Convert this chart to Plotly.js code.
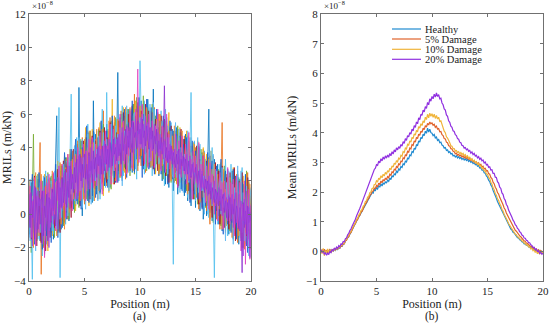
<!DOCTYPE html>
<html>
<head>
<meta charset="utf-8">
<script src="https://cdn.plot.ly/plotly-3.0.1.min.js"></script>
<style>html,body{margin:0;padding:0;background:#fff;}#chart{width:550px;height:323px;}</style>
</head>
<body>
<div id="chart"></div>
<script>
// Position grid: x0 = 0 m, dx = 0.1 m (201 samples, 0..20 m). Values in units of 1e-8 m/kN.
const X0 = 0, DX = 0.1;

// ---- Panel (a): individual MRIL realisations ----
const trialBlue = [
0.8,-1.2,1.9,0.2,-0.9,1.4,-1.8,0.6,2.1,-0.4,
-1.6,1.1,-0.3,2.0,-2.4,0.7,1.5,-1.0,0.3,2.2,
-0.8,1.7,-1.5,0.9,2.4,5.9,-1.1,0.2,2.6,-0.9,
2.9,-0.6,1.8,3.4,0.1,2.2,-0.4,3.6,1.0,2.7,
0.3,3.9,1.5,4.2,0.6,7.6,2.0,4.4,-0.1,3.2,
1.0,4.6,2.3,0.8,4.9,1.9,3.7,0.7,6.8,2.5,
4.8,1.2,3.6,5.1,1.7,3.0,5.3,1.4,4.1,2.2,
5.4,2.0,3.8,1.6,5.6,3.1,2.3,5.2,1.9,4.3,
8.5,2.4,4.5,6.0,2.2,5.3,3.5,6.1,2.6,4.9,
6.3,3.0,5.5,2.5,6.6,4.1,3.2,6.5,2.9,5.2,
3.3,6.8,4.4,2.7,6.2,5.0,3.1,6.9,4.2,2.8,
5.9,3.6,7.5,2.6,5.0,3.8,6.1,2.3,4.6,5.4,
2.0,5.5,3.3,1.8,5.8,3.9,1.6,4.7,2.9,5.1,
1.4,4.4,2.6,5.2,1.2,3.7,4.9,1.5,3.0,4.5,
1.1,4.8,2.2,0.8,4.0,2.9,0.5,3.8,1.7,4.3,
0.4,3.5,1.6,4.1,0.2,2.4,3.7,-0.3,1.9,3.2,
-0.1,3.0,6.3,0.5,2.8,-0.4,1.9,3.3,0.0,2.1,
3.0,-0.6,1.4,2.8,-1.0,0.9,2.5,-0.8,1.6,2.7,
-1.2,1.8,0.3,2.6,-1.5,0.8,2.3,-0.9,1.2,-1.8,
2.1,0.0,-1.6,1.7,-0.5,2.4,-1.9,0.6,1.9,-1.2,
0.4];
const trialOrange = [
-0.9,1.6,0.2,-1.7,2.0,0.5,-1.3,1.2,-0.6,1.8,
4.3,-3.6,0.9,-2.0,1.5,-0.7,2.3,-1.2,0.6,1.9,
-1.1,2.1,0.4,-0.9,2.6,1.0,-0.5,2.8,0.1,3.0,
0.6,2.5,-0.2,3.3,1.4,-0.3,3.1,1.9,0.4,3.8,
1.2,4.1,0.5,2.8,4.4,1.0,3.4,0.8,4.6,2.3,
0.6,4.0,2.6,5.0,1.3,3.9,0.9,4.7,2.8,1.5,
4.5,2.5,0.9,5.2,3.2,1.8,4.7,6.2,2.4,3.6,
1.7,5.0,3.3,5.8,2.1,4.2,1.8,5.5,3.7,2.4,
5.1,2.7,4.6,6.2,2.9,4.3,5.9,2.1,4.8,6.0,
3.1,5.6,2.8,6.4,4.0,7.2,3.5,5.3,2.6,6.0,
4.5,2.9,6.5,3.8,5.7,2.5,6.1,4.4,3.0,5.9,
2.8,5.3,4.0,6.4,2.5,4.8,3.3,6.0,2.7,4.1,
5.6,2.4,4.3,3.1,5.4,1.9,4.0,5.2,2.3,3.6,
4.8,1.9,3.9,2.7,5.1,1.7,3.4,4.6,2.0,3.2,
4.7,1.5,3.5,2.4,4.4,0.9,3.2,4.1,1.4,2.7,
4.0,1.0,2.9,0.3,3.6,2.1,0.7,3.9,1.3,2.6,
0.2,3.4,1.5,-0.6,2.9,1.1,3.5,0.4,2.2,-0.3,
2.6,0.8,-0.9,2.3,5.5,0.1,1.8,-1.1,2.4,0.5,
-0.7,2.1,0.9,-1.4,1.6,2.7,-0.2,1.1,-1.7,2.0,
0.4,-1.3,2.2,0.8,-2.1,1.3,-0.6,2.5,-1.0,0.7,
-0.5];
const trialYellow = [
1.5,-0.4,0.9,2.2,-1.1,0.3,1.7,-0.8,0.0,1.2,
-0.2,1.9,-1.5,0.6,2.4,-0.9,1.1,-2.2,0.8,1.6,
0.1,-1.3,2.0,0.7,-0.6,1.8,3.2,-0.2,1.4,2.5,
-0.4,2.1,3.5,0.9,2.7,-0.1,1.6,3.9,0.5,2.4,
3.6,1.1,0.2,3.2,1.9,4.3,0.7,2.6,4.1,1.4,
3.3,5.2,1.8,2.9,0.5,4.4,2.2,5.1,1.0,3.7,
2.1,4.3,1.4,3.8,5.5,2.0,3.1,1.1,4.6,2.9,
4.8,2.6,1.3,5.3,3.5,6.9,2.7,4.4,2.0,5.6,
3.0,4.9,2.2,5.7,3.8,6.4,2.5,4.1,5.4,3.2,
5.8,2.8,4.6,6.1,3.7,5.0,6.8,3.3,4.2,5.5,
3.6,6.3,5.0,3.2,6.7,4.1,5.6,2.9,5.3,4.0,
6.2,3.1,5.1,4.3,2.4,5.8,3.6,4.7,6.0,2.9,
4.5,3.0,5.7,2.6,4.2,3.5,6.1,2.2,4.4,3.0,
2.6,5.0,3.4,1.8,4.3,2.9,5.2,2.3,3.7,1.6,
3.9,2.5,5.0,1.9,3.4,4.6,1.6,2.8,4.3,1.8,
3.1,1.2,4.4,2.0,3.3,0.8,2.7,4.0,1.1,2.3,
3.6,0.9,2.4,1.5,3.8,0.3,2.0,3.0,0.6,1.7,
-0.2,2.2,1.0,3.1,-0.5,1.5,0.2,2.6,-0.7,1.2,
2.3,0.0,1.6,-0.9,2.8,0.5,-1.2,1.9,0.7,-0.6,
1.6,-1.4,0.9,2.3,-0.3,-1.8,1.4,0.2,2.0,-0.8,
0.9];
const trialGreen = [
-1.0,0.7,-2.3,1.3,4.8,-0.5,1.0,-1.6,2.4,0.0,
1.2,-0.8,2.0,-1.9,0.4,1.7,-1.2,2.5,-0.4,0.9,
2.3,-0.6,1.1,-1.4,2.7,0.2,1.5,-1.0,0.8,2.9,
1.0,-0.7,2.6,0.4,3.4,1.5,-0.3,2.0,3.7,1.1,
2.5,0.1,3.8,1.6,2.9,0.4,4.5,2.7,1.2,3.9,
2.0,4.3,0.9,3.4,1.7,5.0,2.6,1.2,4.1,3.0,
1.5,3.9,2.7,5.0,1.2,4.2,2.3,5.4,3.0,1.8,
3.6,5.1,2.2,4.0,1.5,4.7,3.3,2.1,5.8,3.4,
2.0,5.4,3.6,2.5,6.0,4.3,2.8,5.0,3.3,6.3,
4.0,2.3,5.9,3.6,6.6,2.4,4.9,7.0,3.8,4.5,
6.0,3.4,4.8,7.1,3.9,5.5,2.6,6.3,3.8,5.2,
3.5,6.6,2.9,4.6,5.9,3.0,4.9,2.5,5.5,3.8,
4.9,2.1,5.4,3.7,2.3,5.0,3.4,4.4,1.9,4.6,
3.4,4.6,2.0,3.9,5.3,2.4,1.9,4.1,3.3,2.1,
4.4,3.0,1.4,3.9,2.6,1.3,4.3,2.1,3.5,0.9,
2.6,4.0,0.6,2.8,1.6,3.9,0.9,1.9,3.4,0.4,
2.5,1.2,3.4,0.2,2.1,2.9,-0.5,1.6,2.8,0.3,
1.5,2.7,0.0,-0.7,2.1,1.0,2.9,-0.4,0.8,2.3,
0.3,-1.0,2.0,1.1,-0.4,2.4,0.1,-1.4,1.5,2.2,
-0.9,0.8,-2.0,1.8,0.5,-1.1,2.6,-0.2,-1.5,1.1,
-0.3];
const trialCyan = [
0.5,2.1,-0.7,-3.9,1.4,-1.3,0.9,2.3,-1.5,0.6,
1.8,-0.5,-2.5,1.3,0.2,2.6,-1.8,0.1,1.7,-1.0,
1.0,2.4,-1.2,0.6,3.0,-0.4,1.9,6.4,-3.8,1.7,
0.2,2.8,1.2,-0.6,3.2,2.0,0.3,3.5,7.2,1.4,
3.1,0.8,2.4,4.6,1.0,3.7,0.5,2.9,4.5,1.9,
4.1,1.4,3.2,5.4,1.1,2.8,4.5,2.0,0.8,3.9,
2.6,5.0,1.9,3.5,0.9,4.4,6.3,2.8,4.0,1.6,
7.3,2.9,4.6,2.3,5.2,3.9,1.9,4.5,3.0,5.7,
3.5,2.0,5.5,3.9,6.5,2.3,4.7,3.4,6.1,2.7,
5.0,3.9,6.3,2.9,5.4,3.5,4.3,2.1,6.4,3.7,
9.2,4.7,3.0,5.8,2.4,6.1,4.5,3.5,6.4,3.2,
5.1,2.3,4.2,6.3,3.4,5.1,2.7,4.3,3.1,6.2,
3.2,4.8,1.7,4.1,3.0,5.3,2.6,3.8,5.5,2.0,
-3.0,3.9,2.4,4.7,2.1,3.6,1.3,4.9,2.6,4.0,
2.0,3.3,4.5,1.0,2.9,3.8,7.3,1.9,3.0,4.4,
1.6,3.6,2.4,0.8,4.2,1.4,2.9,0.6,3.8,2.2,
1.1,3.1,-0.2,2.6,1.4,4.0,0.8,-3.8,1.3,2.5,
0.4,1.9,3.0,0.6,-0.3,2.5,1.1,3.3,0.2,-1.3,
1.7,0.8,3.0,-0.5,1.3,2.2,-1.0,0.9,2.6,0.0,
-1.4,1.5,2.8,-0.6,1.0,-1.7,0.4,2.2,-0.9,1.6,
0.2];
const trialMagenta = [
0.1,1.7,-1.4,0.8,-0.3,2.2,-1.9,1.1,0.4,-1.1,
0.7,2.0,-1.1,1.4,-2.6,0.5,1.9,-0.4,2.4,-0.8,
1.6,-0.1,2.5,0.3,-1.0,2.0,0.8,2.9,-0.3,1.3,
3.0,0.5,1.9,-0.2,2.4,3.6,0.7,1.5,3.2,0.2,
1.8,3.5,0.9,2.5,4.0,1.3,3.1,0.9,2.2,4.2,
2.4,0.8,3.8,2.0,4.5,1.5,3.3,4.6,1.6,2.9,
4.2,1.7,3.3,2.4,4.9,2.6,1.2,4.1,3.1,5.0,
2.5,4.1,3.0,5.4,1.8,3.6,5.1,2.6,4.2,1.9,
4.4,3.2,6.0,2.3,4.1,5.6,3.0,4.7,2.4,5.2,
3.5,6.2,4.4,2.7,5.6,3.9,6.3,4.6,8.7,3.1,
5.5,3.9,6.6,4.2,3.0,5.8,4.6,2.8,6.0,4.5,
3.2,5.6,3.9,2.8,5.3,4.4,6.3,3.4,4.0,2.6,
5.3,3.6,4.5,2.5,6.0,3.1,4.8,2.7,4.1,3.5,
3.8,2.2,4.8,3.2,1.6,4.4,3.6,2.2,4.7,2.8,
2.4,4.2,1.8,3.5,4.9,2.1,3.3,0.9,3.8,2.5,
3.5,1.9,2.7,4.3,0.9,3.0,1.6,3.5,2.4,0.7,
2.9,1.9,0.3,3.1,1.0,2.4,1.8,0.0,2.7,1.2,
-0.4,1.7,2.5,0.6,1.9,-0.9,2.0,1.2,-0.3,2.8,
0.8,-0.6,1.9,0.0,2.1,-1.3,1.0,2.3,-0.8,0.4,
1.9,-2.2,0.6,-0.4,2.0,-3.0,0.9,-1.6,1.5,-2.7,
0.6];
const trialDarkRed = [
1.1,0.4,-1.5,-0.7,1.8,2.3,-0.2,-1.9,0.5,1.4,
-0.9,-1.7,0.6,1.9,0.2,-2.2,1.0,2.1,-0.3,-1.4,
1.8,0.5,2.4,-0.8,-0.2,1.3,2.7,0.0,-1.1,2.2,
1.6,3.2,-0.5,0.8,2.9,3.4,0.3,1.2,-0.2,2.6,
3.9,1.4,0.7,3.0,4.2,2.2,0.5,3.5,1.8,4.4,
2.9,1.0,4.6,3.4,1.5,0.9,3.8,4.7,2.4,1.7,
4.4,3.3,1.5,2.6,5.0,4.1,1.9,3.4,5.2,2.3,
1.9,4.6,3.7,5.5,2.4,3.0,5.3,1.8,4.1,4.9,
2.6,5.6,4.0,2.3,3.4,6.1,4.8,2.7,5.4,3.6,
6.0,3.2,4.9,6.5,2.8,4.3,5.9,3.5,6.7,4.9,
3.5,6.2,5.4,2.9,4.6,6.6,3.7,5.1,6.2,3.4,
4.9,6.1,2.7,3.9,5.7,4.5,2.6,5.2,3.3,5.9,
3.1,4.6,5.7,2.3,3.8,4.9,1.9,4.2,5.3,2.8,
4.1,2.2,5.0,3.5,1.7,4.4,3.0,5.1,2.4,3.3,
4.5,1.8,2.9,4.7,1.4,3.3,4.1,2.0,0.9,3.6,
2.4,4.1,1.1,0.6,3.3,2.8,0.4,3.5,2.1,1.0,
3.2,0.5,2.4,3.5,0.8,-0.2,2.3,1.4,3.1,0.2,
1.1,2.6,-0.6,0.7,2.9,1.6,-0.8,0.4,2.2,1.4,
-0.9,2.5,1.2,-0.5,0.7,2.8,-1.6,1.3,0.1,2.0,
-1.0,1.2,2.5,-2.0,0.3,1.7,-1.3,2.2,0.6,-2.1,
0.3];
const trialRoyal = [
-1.4,0.2,1.6,2.4,-0.6,-1.8,0.7,1.3,-0.4,2.5,
1.4,-0.8,-2.1,0.3,2.2,1.0,-1.3,-0.1,1.8,0.6,
-1.7,0.9,1.6,-0.3,3.0,0.4,-1.4,1.2,2.3,0.0,
-0.8,1.5,3.7,2.4,-0.3,0.9,3.1,2.0,3.9,0.6,
1.0,3.3,4.5,0.8,2.4,3.8,1.6,0.3,4.0,2.8,
1.3,3.5,5.3,2.0,0.7,4.0,2.9,1.1,5.0,3.2,
1.0,2.8,4.6,3.6,1.3,5.6,2.9,4.4,1.7,3.8,
5.0,1.6,3.1,4.8,2.5,5.9,3.9,2.2,4.6,3.5,
1.9,4.2,5.8,3.1,2.0,5.1,6.3,3.5,2.2,4.6,
5.5,2.6,3.9,6.8,4.5,2.5,5.7,3.3,4.6,7.0,
3.9,5.1,2.2,6.0,4.3,3.6,6.9,5.2,2.7,4.6,
6.4,3.8,5.0,2.4,4.6,6.3,3.5,4.2,5.6,2.4,
4.3,5.9,2.5,3.4,5.1,1.8,3.9,5.6,3.3,2.1,
5.0,3.1,2.5,4.8,1.6,3.4,4.7,2.7,1.4,4.2,
3.0,1.3,4.6,2.5,3.7,0.7,2.6,4.4,3.0,1.2,
3.8,2.6,0.9,4.0,1.7,2.9,0.3,3.1,2.5,0.5,
1.6,3.7,2.2,0.1,2.4,3.2,0.9,1.8,-0.6,2.9,
2.0,-0.1,1.5,3.3,0.3,-1.2,1.9,2.6,0.5,-0.6,
2.0,1.4,-1.1,0.5,2.7,-0.2,1.5,-1.5,2.4,0.9,
0.1,-1.6,1.9,0.9,-0.6,2.3,-0.9,-2.3,1.2,0.0,
-1.2];
const trialRed = [
2.0,0.6,-0.9,1.1,-2.0,0.3,2.5,-0.5,1.6,-1.3,
0.3,2.4,1.1,-1.2,-0.2,1.7,0.4,-1.9,2.0,1.2,
-0.4,2.6,1.0,0.0,1.9,-1.3,2.2,0.7,3.1,-0.6,
2.3,1.0,-0.9,2.8,1.7,3.6,0.1,2.2,1.2,3.3,
0.9,2.3,3.6,1.3,4.4,2.1,0.8,3.9,2.9,0.9,
4.5,2.4,1.4,4.0,3.0,5.0,1.9,2.8,4.3,0.8,
3.5,5.1,2.0,1.4,4.3,3.3,5.1,1.8,2.7,4.6,
3.2,2.1,5.6,4.3,1.8,3.5,4.6,5.9,2.8,3.2,
5.7,4.4,2.2,3.3,5.5,2.6,4.3,6.4,3.6,2.5,
4.1,6.4,3.7,5.1,2.6,5.8,3.9,6.1,3.0,5.6,
6.5,3.5,4.2,5.6,3.2,4.8,6.4,2.9,4.7,6.1,
4.0,2.9,6.1,4.9,3.0,5.7,4.0,2.4,6.0,4.5,
2.9,5.2,4.0,5.6,2.7,3.4,5.0,3.6,2.0,4.7,
3.0,5.3,2.7,1.9,3.8,4.6,2.5,3.4,5.0,1.8,
2.7,4.0,3.4,1.2,4.3,2.4,3.7,1.5,2.6,4.2,
1.3,2.8,3.9,1.9,0.7,3.2,2.4,1.0,3.7,1.5,
0.8,2.0,3.3,-0.3,1.9,2.7,0.5,3.0,1.1,1.8,
2.4,0.3,1.4,2.0,-0.9,2.7,0.7,1.5,-0.5,2.0,
1.2,2.2,-0.3,0.2,1.8,-1.2,0.9,2.4,0.2,-1.3,
1.3,2.0,-0.8,0.4,1.5,-1.1,2.4,-0.4,0.8,1.8,
-0.9];
const trialSky = [
-0.3,-1.6,1.0,0.4,2.0,-0.8,-2.2,1.5,0.9,-0.6,
-1.1,1.5,0.4,2.3,-1.6,-0.5,0.9,2.4,-1.0,0.2,
2.0,-1.0,0.3,2.6,1.2,-0.9,0.4,2.9,1.5,-0.2,
1.1,3.0,2.0,0.2,2.5,-0.1,3.4,1.4,2.1,0.8,
2.9,4.1,0.6,1.9,3.0,4.6,1.4,2.3,0.4,3.4,
2.2,0.3,3.6,4.8,2.4,3.1,0.6,4.2,2.1,4.9,
2.0,3.9,0.8,4.7,2.5,1.5,3.6,4.9,2.2,3.0,
4.5,3.3,1.4,2.7,5.4,4.1,2.6,3.9,5.3,2.0,
4.8,3.0,5.2,4.4,1.7,3.8,5.0,4.2,6.5,3.0,
2.5,4.7,5.2,3.0,5.9,6.1,2.7,4.8,5.0,3.3,
5.8,4.0,6.0,3.9,6.8,2.7,5.0,5.4,3.1,6.6,
3.2,4.4,6.7,3.6,2.8,5.2,5.6,3.0,4.4,5.2,
5.6,3.0,3.5,6.3,4.2,2.4,4.6,4.0,5.0,2.4,
2.2,4.2,5.5,2.2,3.4,5.1,2.1,4.0,3.6,1.3,
3.6,2.1,2.4,5.0,1.9,3.1,4.6,1.1,3.5,2.7,
0.8,3.1,4.6,1.3,2.5,3.6,1.4,2.3,0.0,3.3,
2.3,0.0,1.0,3.8,1.6,0.5,3.6,1.9,0.9,2.6,
-0.6,1.5,2.2,0.0,2.8,0.4,1.3,-1.6,1.9,0.9,
2.6,-0.4,0.6,1.8,-1.8,1.6,0.8,-0.3,2.9,-0.7,
0.8,2.6,-1.1,1.3,-1.6,0.6,1.7,-0.7,-2.5,0.9,
1.5];
const trialPurple = [
0.4,-0.8,1.3,-0.2,0.9,-1.5,1.6,0.1,-0.9,1.0,
-0.6,0.8,1.4,-1.3,0.5,-0.2,1.2,-1.6,1.0,0.3,
-0.5,1.5,0.2,1.9,-0.7,1.1,2.2,0.1,1.6,0.4,
2.2,0.7,1.3,2.7,0.4,2.0,1.0,2.9,1.5,2.4,
1.3,2.8,1.9,3.3,1.1,2.7,3.6,2.0,3.0,2.2,
3.6,2.1,3.0,1.8,3.7,2.6,3.2,1.9,3.8,2.7,
3.4,2.2,4.0,2.9,3.5,2.4,4.1,3.1,2.6,4.2,
3.0,3.9,2.8,4.3,3.4,2.9,4.5,3.6,4.0,3.2,
4.6,3.5,4.2,3.0,4.9,3.8,4.4,5.1,3.6,4.7,
4.0,5.2,4.3,3.7,5.5,4.6,4.9,3.9,5.6,4.8,
5.1,4.2,5.7,4.6,5.0,4.1,5.3,4.7,3.9,5.2,
4.5,5.0,3.9,4.7,4.2,5.1,3.7,4.4,3.9,4.6,
3.6,4.3,7.7,3.4,4.0,3.1,3.8,3.3,4.1,3.0,
3.7,3.2,2.8,3.6,3.0,3.9,2.7,3.3,2.9,3.5,
2.6,3.3,3.0,2.4,3.2,2.7,2.2,3.0,2.5,2.0,
2.8,2.2,1.8,2.6,2.0,1.6,2.4,1.9,1.3,2.1,
1.5,2.0,1.2,1.8,0.9,1.6,1.1,0.7,1.5,0.9,
1.3,0.5,1.1,0.2,0.9,1.2,0.1,0.8,-0.2,0.7,
0.3,1.0,-0.4,0.6,0.0,0.9,-0.6,0.5,0.2,-0.9,
0.4,-0.3,-3.5,0.7,-0.8,0.2,-1.2,0.5,-0.5,0.1,
-0.4];
const trialViolet = [
-0.6,1.2,0.3,-1.9,0.8,1.7,-0.4,-1.1,1.4,0.5,
0.9,-0.4,-1.8,0.8,1.6,-1.0,0.5,1.3,-2.0,0.9,
0.4,1.3,-0.6,2.1,0.5,0.0,-0.9,1.9,0.6,2.1,
0.3,1.8,2.5,0.6,1.1,2.9,1.8,0.4,2.7,1.9,
2.2,1.5,3.1,2.4,0.9,3.5,2.5,3.4,1.6,2.7,
3.0,3.8,2.3,1.5,3.5,2.2,4.0,2.4,3.3,2.0,
2.7,3.6,3.0,4.1,2.1,3.9,3.2,2.4,4.4,3.0,
4.1,2.6,4.5,3.3,2.8,4.2,3.5,4.6,3.0,4.5,
3.4,4.8,3.7,4.3,5.2,3.2,4.2,3.6,5.3,4.1,
5.0,3.9,4.6,5.6,4.2,3.6,5.7,4.5,4.0,5.4,
4.2,5.8,4.0,5.4,3.6,5.9,4.4,5.5,4.9,4.0,
5.2,3.8,4.6,5.4,3.6,4.4,4.9,3.5,4.8,3.8,
4.3,3.3,4.4,4.0,3.2,4.6,3.1,4.2,3.2,3.9,
3.0,3.9,3.4,2.6,3.8,3.4,2.4,3.7,3.2,2.6,
3.4,2.4,3.6,2.9,2.0,3.5,2.3,2.6,3.1,1.8,
2.5,3.0,1.6,2.4,2.7,1.4,2.6,1.5,2.3,1.6,
2.0,1.1,2.3,1.4,1.9,0.6,1.3,2.0,0.5,1.4,
0.6,1.6,0.8,1.5,-0.1,0.9,1.3,0.2,1.0,-0.4,
1.1,-0.2,0.7,1.2,-0.8,0.4,1.3,-0.5,0.6,1.2,
-1.0,0.8,0.3,-2.5,0.9,-0.6,1.4,-1.9,0.4,-2.6,
0.5];

// ---- Panel (b): mean MRILs ----
const meanHealthy = [
0.02,-0.05,0.06,-0.03,0.04,-0.06,0.03,0.00,0.05,-0.02,
0.04,0.01,0.07,0.03,0.10,0.06,0.13,0.11,0.18,0.17,
0.24,0.26,0.34,0.38,0.45,0.50,0.58,0.64,0.72,0.80,
0.87,0.95,1.01,1.09,1.15,1.22,1.30,1.36,1.45,1.52,
1.58,1.66,1.70,1.79,1.84,1.90,1.98,1.96,2.08,2.05,
2.14,2.10,2.22,2.16,2.28,2.20,2.31,2.26,2.35,2.30,
2.40,2.36,2.47,2.42,2.55,2.50,2.61,2.58,2.70,2.66,
2.78,2.74,2.86,2.83,2.95,2.92,3.04,3.01,3.14,3.12,
3.25,3.22,3.36,3.33,3.48,3.44,3.60,3.56,3.72,3.68,
3.84,3.80,3.95,3.90,4.05,3.98,4.15,4.02,4.12,4.00,
3.98,3.90,3.94,3.82,3.85,3.74,3.77,3.66,3.68,3.58,
3.56,3.48,3.50,3.40,3.42,3.33,3.36,3.28,3.30,3.22,
3.24,3.18,3.22,3.15,3.19,3.13,3.17,3.10,3.14,3.08,
3.12,3.06,3.10,3.03,3.07,3.00,3.03,2.96,2.99,2.92,
2.94,2.87,2.89,2.81,2.82,2.74,2.74,2.65,2.63,2.54,
2.50,2.40,2.35,2.24,2.18,2.06,1.98,1.86,1.79,1.68,
1.60,1.50,1.44,1.34,1.28,1.18,1.12,1.02,0.97,0.88,
0.82,0.75,0.72,0.64,0.62,0.55,0.53,0.46,0.45,0.39,
0.38,0.32,0.31,0.25,0.26,0.20,0.21,0.15,0.16,0.10,
0.12,0.06,0.10,0.02,0.07,-0.02,0.05,-0.04,0.03,-0.05,
0.00];
const meanDamage5 = [
-0.03,0.05,0.01,0.07,-0.02,0.04,-0.05,0.02,0.06,0.00,
0.05,0.02,0.08,0.05,0.11,0.08,0.15,0.12,0.20,0.18,
0.27,0.25,0.36,0.37,0.47,0.49,0.60,0.63,0.74,0.79,
0.89,0.93,1.04,1.07,1.18,1.21,1.32,1.35,1.46,1.50,
1.61,1.64,1.75,1.78,1.89,1.92,2.02,2.03,2.13,2.12,
2.22,2.18,2.30,2.25,2.37,2.31,2.42,2.37,2.47,2.42,
2.52,2.48,2.60,2.56,2.68,2.65,2.77,2.74,2.86,2.83,
2.95,2.92,3.04,3.02,3.15,3.12,3.25,3.23,3.37,3.34,
3.48,3.45,3.60,3.57,3.72,3.68,3.84,3.80,3.95,3.91,
4.05,4.01,4.15,4.10,4.24,4.19,4.31,4.26,4.36,4.30,
4.33,4.25,4.28,4.18,4.22,4.12,4.14,4.03,4.04,3.93,
3.90,3.80,3.79,3.68,3.66,3.56,3.55,3.46,3.45,3.37,
3.36,3.29,3.31,3.24,3.27,3.21,3.25,3.18,3.22,3.15,
3.20,3.13,3.17,3.10,3.14,3.06,3.10,3.02,3.06,2.98,
3.02,2.94,2.98,2.89,2.93,2.84,2.87,2.78,2.80,2.71,
2.72,2.62,2.60,2.49,2.45,2.33,2.28,2.16,2.10,1.98,
1.93,1.82,1.75,1.64,1.57,1.46,1.40,1.29,1.22,1.12,
1.04,0.96,0.91,0.83,0.79,0.71,0.68,0.61,0.58,0.52,
0.49,0.43,0.41,0.35,0.34,0.28,0.27,0.22,0.21,0.16,
0.16,0.10,0.12,0.05,0.08,0.01,0.05,-0.02,0.03,-0.03,
0.01];
const meanDamage10 = [
0.05,-0.08,0.10,-0.15,0.03,-0.06,0.08,-0.02,0.04,-0.05,
0.06,0.00,0.09,0.04,0.12,0.07,0.16,0.13,0.21,0.20,
0.28,0.28,0.38,0.40,0.50,0.53,0.63,0.67,0.77,0.83,
0.92,0.97,1.07,1.12,1.22,1.27,1.37,1.41,1.52,1.56,
1.68,1.71,1.83,1.86,1.98,2.00,2.12,2.13,2.25,2.26,
2.38,2.35,2.47,2.42,2.55,2.48,2.60,2.54,2.66,2.60,
2.72,2.67,2.80,2.75,2.88,2.84,2.97,2.93,3.06,3.02,
3.14,3.10,3.24,3.21,3.36,3.33,3.48,3.45,3.61,3.58,
3.72,3.68,3.84,3.80,3.96,3.92,4.08,4.03,4.20,4.15,
4.30,4.24,4.40,4.34,4.52,4.44,4.62,4.50,4.66,4.55,
4.64,4.52,4.62,4.48,4.58,4.46,4.52,4.38,4.40,4.25,
4.20,4.05,4.00,3.86,3.82,3.70,3.66,3.56,3.54,3.46,
3.46,3.38,3.40,3.33,3.36,3.29,3.33,3.26,3.30,3.22,
3.26,3.18,3.22,3.14,3.17,3.09,3.12,3.04,3.07,2.99,
3.02,2.93,2.96,2.87,2.89,2.79,2.81,2.71,2.71,2.61,
2.60,2.49,2.45,2.33,2.27,2.14,2.08,1.95,1.89,1.77,
1.72,1.60,1.54,1.42,1.36,1.25,1.19,1.09,1.03,0.94,
0.88,0.80,0.76,0.68,0.65,0.58,0.56,0.49,0.48,0.42,
0.41,0.35,0.34,0.28,0.28,0.21,0.22,0.15,0.16,0.08,
0.10,0.02,0.06,-0.04,0.02,-0.08,-0.01,-0.10,0.01,-0.06,
-0.02];
const meanDamage20 = [
0.05,-0.04,0.02,-0.10,-0.05,-0.13,-0.06,-0.11,0.00,-0.04,
0.06,0.02,0.10,0.06,0.14,0.10,0.19,0.15,0.25,0.23,
0.33,0.32,0.43,0.45,0.56,0.60,0.70,0.75,0.85,0.92,
1.02,1.08,1.19,1.26,1.36,1.45,1.55,1.65,1.75,1.85,
1.97,2.05,2.18,2.26,2.39,2.46,2.58,2.65,2.76,2.80,
2.92,2.90,3.04,2.98,3.12,3.05,3.18,3.10,3.22,3.14,
3.25,3.17,3.30,3.22,3.36,3.28,3.42,3.35,3.49,3.42,
3.53,3.47,3.60,3.55,3.70,3.64,3.80,3.74,3.90,3.86,
4.00,3.95,4.12,4.06,4.24,4.18,4.36,4.30,4.50,4.44,
4.62,4.58,4.76,4.70,4.88,4.82,5.02,4.94,5.14,5.06,
5.22,5.14,5.30,5.20,5.34,5.22,5.28,5.14,5.16,5.00,
4.94,4.80,4.76,4.60,4.55,4.40,4.35,4.22,4.18,4.06,
4.04,3.93,3.90,3.80,3.78,3.68,3.66,3.57,3.56,3.48,
3.50,3.42,3.45,3.37,3.40,3.31,3.35,3.26,3.30,3.21,
3.24,3.15,3.19,3.10,3.14,3.05,3.08,2.98,3.01,2.91,
2.93,2.83,2.85,2.74,2.75,2.63,2.63,2.50,2.49,2.35,
2.30,2.16,2.12,1.97,1.92,1.78,1.72,1.58,1.52,1.39,
1.32,1.21,1.15,1.05,1.00,0.90,0.86,0.77,0.74,0.66,
0.63,0.55,0.53,0.45,0.44,0.37,0.36,0.29,0.29,0.22,
0.20,0.13,0.14,0.06,0.08,0.00,0.02,-0.07,-0.03,-0.10,
-0.06];

const trialSeries = [trialBlue, trialOrange, trialYellow, trialGreen, trialCyan, trialDarkRed,
  trialRoyal, trialRed, trialSky, trialMagenta, trialPurple, trialViolet];
const trialColors = ['#0072BD', '#E8701A', '#EDB120', '#77AC30', '#4DBEEE', '#A2142F',
  '#1A5FD0', '#F08A30', '#60B8F0', '#E040C0', '#8B2FD0', '#A040E0'];

const meanNames = ['Healthy', '5% Damage', '10% Damage', '20% Damage'];
const meanSeries = [meanHealthy, meanDamage5, meanDamage10, meanDamage20];
const meanColors = ['#1F8AD0', '#E0622A', '#F0B43A', '#9030E0'];

const xTicks = [0, 5, 10, 15, 20];

const FONT = "'Liberation Serif', serif";
const traces = [];
trialSeries.forEach((s, i) => {
  traces.push({type: 'scatter', mode: 'lines', x0: X0, dx: DX, y: s,
    xaxis: 'x', yaxis: 'y', line: {color: trialColors[i], width: 0.8}, hoverinfo: 'skip', showlegend: false});
});
meanSeries.forEach((s, i) => {
  traces.push({type: 'scatter', mode: 'lines', x0: X0, dx: DX, y: s, name: meanNames[i],
    xaxis: 'x2', yaxis: 'y2', line: {color: meanColors[i], width: 1.2}, hoverinfo: 'skip', showlegend: false});
});

const axBase = {
  showline: true, linecolor: '#707070', linewidth: 1, mirror: 'ticks',
  ticks: 'inside', ticklen: 3, tickcolor: '#707070', showgrid: false, zeroline: false,
  tickfont: {family: FONT, size: 11, color: '#222'}
};
const yTop = 1 - 14/323, yBot = 1 - 281/323;
const layout = {
  width: 550, height: 323,
  margin: {l: 0, r: 0, t: 0, b: 0},
  paper_bgcolor: '#fff', plot_bgcolor: '#fff',
  font: {family: FONT, color: '#222'},
  showlegend: false,
  xaxis: Object.assign({}, axBase, {domain: [29/550, 251/550], range: [0, 20], tickvals: xTicks, anchor: 'y',
    title: {text: 'Position (m)', font: {family: FONT, size: 12}, standoff: 0}}),
  yaxis: Object.assign({}, axBase, {domain: [yBot, yTop], range: [-4, 12], dtick: 2, anchor: 'x',
    title: {text: 'MRILs (m/kN)', font: {family: FONT, size: 12}, standoff: 4}}),
  xaxis2: Object.assign({}, axBase, {domain: [321/550, 543/550], range: [0, 20], tickvals: xTicks, anchor: 'y2',
    title: {text: 'Position (m)', font: {family: FONT, size: 12}, standoff: 0}}),
  yaxis2: Object.assign({}, axBase, {domain: [yBot, yTop], range: [-1, 8], dtick: 1, anchor: 'x2',
    title: {text: 'Mean MRILs (m/kN)', font: {family: FONT, size: 12}, standoff: 6}}),
  annotations: [
    {xref: 'paper', yref: 'paper', x: 30/550, y: 1 - 13/323, xanchor: 'left', yanchor: 'bottom', showarrow: false,
     text: '×10<sup>−8</sup>', font: {family: FONT, size: 9, color: '#222'}},
    {xref: 'paper', yref: 'paper', x: 322/550, y: 1 - 13/323, xanchor: 'left', yanchor: 'bottom', showarrow: false,
     text: '×10<sup>−8</sup>', font: {family: FONT, size: 9, color: '#222'}},
    {xref: 'paper', yref: 'paper', x: 140/550, y: 1 - 316/323, xanchor: 'center', yanchor: 'middle', showarrow: false,
     text: '(a)', font: {family: FONT, size: 11.5, color: '#222'}},
    {xref: 'paper', yref: 'paper', x: 432/550, y: 1 - 316/323, xanchor: 'center', yanchor: 'middle', showarrow: false,
     text: '(b)', font: {family: FONT, size: 11.5, color: '#222'}}
  ],
  shapes: []
};
// Manual legend (MATLAB-style, no box)
const legRows = [29, 39, 49.3, 59.3];
meanNames.forEach((n, i) => {
  const yy = 1 - legRows[i]/323;
  layout.shapes.push({type: 'line', xref: 'paper', yref: 'paper', x0: 392/550, x1: 421/550, y0: yy, y1: yy,
    line: {color: meanColors[i], width: 1.2}});
  layout.annotations.push({xref: 'paper', yref: 'paper', x: 423/550, y: yy, xanchor: 'left', yanchor: 'middle',
    showarrow: false, text: n, font: {family: FONT, size: 10.5, color: '#222'}});
});

Plotly.newPlot('chart', traces, layout, {staticPlot: true, displayModeBar: false});
</script>
</body>
</html>
